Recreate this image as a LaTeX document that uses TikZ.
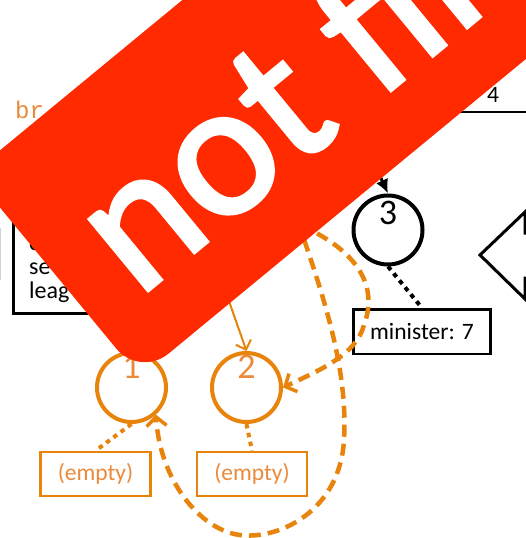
\documentclass[tikz,border=0pt]{standalone}
\usepackage{fontspec}
\setmainfont{Carlito}
\newfontfamily\monofont{Liberation Mono}
\newfontfamily\bannerfont[FakeBold=2]{Carlito}
\usetikzlibrary{arrows.meta}
\definecolor{org}{HTML}{E8830C}
\definecolor{orgtext}{HTML}{EA8A3A}
\definecolor{banner}{HTML}{FF2A00}
\begin{document}
\begin{tikzpicture}[x=1pt,y=-1pt,
  circ/.style={circle, draw, line width=4pt, minimum size=69pt, inner sep=0pt},
  digit/.style={inner sep=0pt, font=\fontsize{36}{36}\selectfont},
  ebox/.style={draw=org, line width=2.5pt, text=orgtext, minimum width=110pt, minimum height=44pt, inner sep=0pt, font=\fontsize{23.5}{25}\selectfont},
  kbox/.style={draw=black, line width=2.5pt, minimum width=137pt, minimum height=44.5pt, inner sep=0pt, font=\fontsize{23.5}{25}\selectfont},
  ltxt/.style={anchor=base west, inner sep=0pt, font=\fontsize{24}{24}\selectfont},
  dotline/.style={line width=4pt, dash pattern=on 4.5pt off 4.5pt},
  dashcurve/.style={draw=org, line width=4.5pt, dash pattern=on 12pt off 7pt, -{Straight Barb[length=9pt,width=20pt,line width=3.5pt]}},
  thinarrow/.style={draw=org, line width=2pt, -{Straight Barb[length=8pt,width=16pt,line width=2pt]}}
]
\useasboundingbox (0,0) rectangle (526,538);
\clip (0,0) rectangle (526,538);
\fill[white] (0,0) rectangle (526,538);

% left text and box
\node[anchor=base west, inner sep=0pt, text=orgtext, font=\monofont\fontsize{24}{24}\selectfont] (br) at (15,118) {br};
\draw[gray!35, line width=1pt] (0.5,228) -- (0.5,280);
\node[draw, line width=2.5pt, minimum width=150pt, minimum height=94pt, inner sep=0pt, anchor=north west] (lbox) at (12,218) {};
\node[ltxt] (l1) at (29,250) {c};
\node[ltxt] (l2) at (29,274) {se};
\node[ltxt] (l3) at (29,298) {leag};

% top right box
\node[draw, line width=2.5pt, minimum width=140pt, minimum height=93pt, inner sep=0pt, anchor=south west] (tbox) at (400,113) {};
\node[inner sep=0pt, font=\fontsize{23.5}{25}\selectfont] (t4) at (493,95) {4};

% big arrow shape at right
\draw[line width=3pt, line join=miter] (480,255) -- (525,212) -- (525,233) -- (570,233) -- (570,278) -- (525,278) -- (525,299) -- cycle;

% circles
\node[circ, draw=org] (c1) at (131.5,387.5) {};
\node[circ, draw=org] (c2) at (246.5,387.5) {};
\node[circ, draw=black] (c3) at (388,230) {};
\node[digit, text=orgtext] (d1) at (131.5,367) {1};
\node[digit, text=orgtext] (d2) at (246.5,367) {2};
\node[digit, text=black] (d3) at (388,213) {3};

% boxes
\node[ebox] (e1) at (95.5,474) {(empty)};
\node[ebox] (e2) at (252,474) {(empty)};
\node[kbox] (m) at (422,331.5) {minister: 7};

% dotted links
\draw[dotline, draw=black] (c3.south) -- (m.north);
\draw[dotline, draw=org] (c1.south) -- (e1.north);
\draw[dotline, draw=org] (c2.south) -- (e2.north);

% hidden origins
\coordinate (hk) at (345,100);
\coordinate (hs) at (216.5,265.5);
\coordinate (ha) at (298,222);
\coordinate (hb) at (300,225);

\draw[line width=3pt, -{Latex[length=14pt,width=13pt]}] (hk) -- (c3.north);
\draw[thinarrow] (hs) -- (c2.north);
\draw[dashcurve] (ha) .. controls (325,300) and (348,370) .. (344,440)
   .. controls (340,510) and (280,540) .. (240,535)
   .. controls (200,530) and (160,480) .. (c1.-48);
\draw[dashcurve] (hb) .. controls (352,248) and (380,282) .. (364,325)
   .. controls (356,355) and (320,370) .. (c2.east);

% banner
\fill[banner, rounded corners=37pt] (-28.1,173.5) -- (139.9,377.2) -- (859,-215.7) -- (691.1,-419.4) -- cycle;
\node[rotate=39.5, anchor=base west, inner sep=0pt, text=white, font=\bannerfont\fontsize{193}{193}\selectfont] (nf) at (137.9,298.8) {not final};
\end{tikzpicture}
\end{document}
